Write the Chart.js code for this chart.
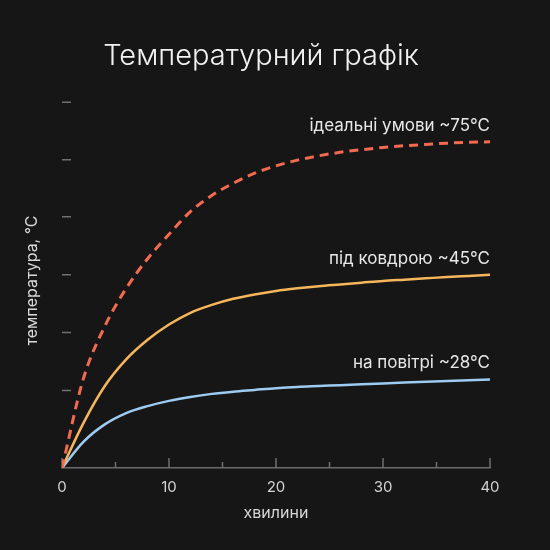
<!DOCTYPE html>
<html>
<head>
<meta charset="utf-8">
<script src="https://cdn.jsdelivr.net/npm/chart.js@4"></script>
<style>
  html, body { margin: 0; padding: 0; background: #161616; }
  #wrap { width: 550px; height: 550px; }
</style>
</head>
<body>
<div id="wrap"><canvas id="chart"></canvas></div>
<script>
// --- DATA ---
const minutes = [0, 2, 4, 6, 8, 10, 12, 14, 16, 18, 20, 22, 24, 26, 28, 30, 32, 34, 36, 38, 40];
const ideal   = [0, 20.5, 32.5, 41.2, 48, 53.6, 58.8, 62.5, 65.3, 67.6, 69.3, 70.6, 71.6, 72.4, 73, 73.5, 73.9, 74.2, 74.5, 74.7, 74.8];
const blanket = [0, 10.3, 18.8, 24.9, 29.4, 32.9, 35.6, 37.4, 38.8, 39.8, 40.6, 41.2, 41.7, 42.1, 42.5, 42.9, 43.2, 43.5, 43.8, 44.05, 44.3];
const open    = [0, 6, 10, 12.6, 14.2, 15.4, 16.3, 17, 17.5, 17.9, 18.3, 18.6, 18.8, 19, 19.2, 19.4, 19.6, 19.8, 19.95, 20.1, 20.3];
const seriesLabels = ['ідеальні умови ~75°C', 'під ковдрою ~45°C', 'на повітрі ~28°C'];
const yTicks = [17.8, 31.1, 44.3, 57.6, 70.7, 83.9];
const xLabelStep = 10;
const chartTitle = 'Температурний графік';

const FONT = 'Inter, "Noto Sans", sans-serif';

const toPoints = vals => vals.map((v, i) => ({ x: minutes[i], y: v }));

// title, slightly right of the canvas centre as in the reference
const titlePlugin = {
    id: 'titleText',
    afterDraw(chart) {
        const { ctx } = chart;
        ctx.save();
        ctx.font = '300 29px ' + FONT;
        ctx.fillStyle = '#f2f2f2';
        ctx.textAlign = 'center';
        ctx.textBaseline = 'alphabetic';
        ctx.fillText(chartTitle, 261, 65);
        ctx.restore();
    }
};

// short tick marks drawn inside the plot
const axisTicks = {
    id: 'axisTicks',
    beforeDatasetsDraw(chart) {
        const { ctx, chartArea, scales: { x, y } } = chart;
        ctx.save();
        ctx.strokeStyle = '#707070';
        ctx.lineWidth = 1.5;
        ctx.beginPath();
        x.ticks.forEach(t => {
            const px = x.getPixelForValue(t.value);
            const len = t.value % xLabelStep === 0 ? 10 : 6;
            ctx.moveTo(px, chartArea.bottom);
            ctx.lineTo(px, chartArea.bottom - len);
        });
        yTicks.forEach(v => {
            const py = y.getPixelForValue(v);
            ctx.moveTo(chartArea.left, py);
            ctx.lineTo(chartArea.left + 9, py);
        });
        ctx.stroke();
        ctx.restore();
    }
};

// label above the end of each curve
const endLabels = {
    id: 'endLabels',
    afterDatasetsDraw(chart) {
        const { ctx, scales: { x, y } } = chart;
        ctx.save();
        ctx.font = '17px ' + FONT;
        ctx.fillStyle = '#e8e8e8';
        ctx.textAlign = 'right';
        ctx.textBaseline = 'alphabetic';
        chart.data.datasets.forEach((ds, i) => {
            const last = ds.data[ds.data.length - 1];
            ctx.fillText(seriesLabels[i], x.getPixelForValue(last.x), y.getPixelForValue(last.y) - 11);
        });
        ctx.restore();
    }
};

new Chart(document.getElementById('chart'), {
    type: 'line',
    data: {
        datasets: [
            { data: toPoints(ideal), borderColor: '#f26a50', borderWidth: 3, borderDash: [9, 6] },
            { data: toPoints(blanket), borderColor: '#f6b65c', borderWidth: 2.5 },
            { data: toPoints(open), borderColor: '#9dcbf2', borderWidth: 2.5 }
        ]
    },
    options: {
        responsive: true,
        maintainAspectRatio: false,
        animation: false,
        layout: { padding: { left: 0, right: 60, top: 93, bottom: 0 } },
        elements: {
            point: { radius: 0 },
            line: { cubicInterpolationMode: 'monotone', fill: false }
        },
        plugins: {
            legend: { display: false },
            tooltip: { enabled: false },
            title: { display: false }
        },
        scales: {
            x: {
                type: 'linear',
                min: 0,
                max: 40,
                afterFit: s => { s.height = 82; },
                border: { display: true, color: '#6a6a6a', width: 1.5 },
                grid: { display: false, drawTicks: false },
                ticks: {
                    stepSize: 5,
                    color: '#d4d4d4',
                    padding: 10,
                    font: { family: FONT, size: 15 },
                    callback: v => (v % xLabelStep === 0 ? String(v) : '')
                },
                title: {
                    display: true,
                    text: 'хвилини',
                    color: '#d8d8d8',
                    font: { family: FONT, size: 16 },
                    padding: { top: 0, bottom: 27 }
                }
            },
            y: {
                min: 0,
                max: 86,
                afterFit: s => { s.width = 62; },
                border: { display: false },
                grid: { display: false },
                ticks: { display: false },
                title: {
                    display: true,
                    text: 'температура, °C',
                    color: '#d8d8d8',
                    font: { family: FONT, size: 16 },
                    padding: { top: 23, bottom: 0 }
                }
            }
        }
    },
    plugins: [axisTicks, endLabels, titlePlugin]
});
</script>
</body>
</html>
